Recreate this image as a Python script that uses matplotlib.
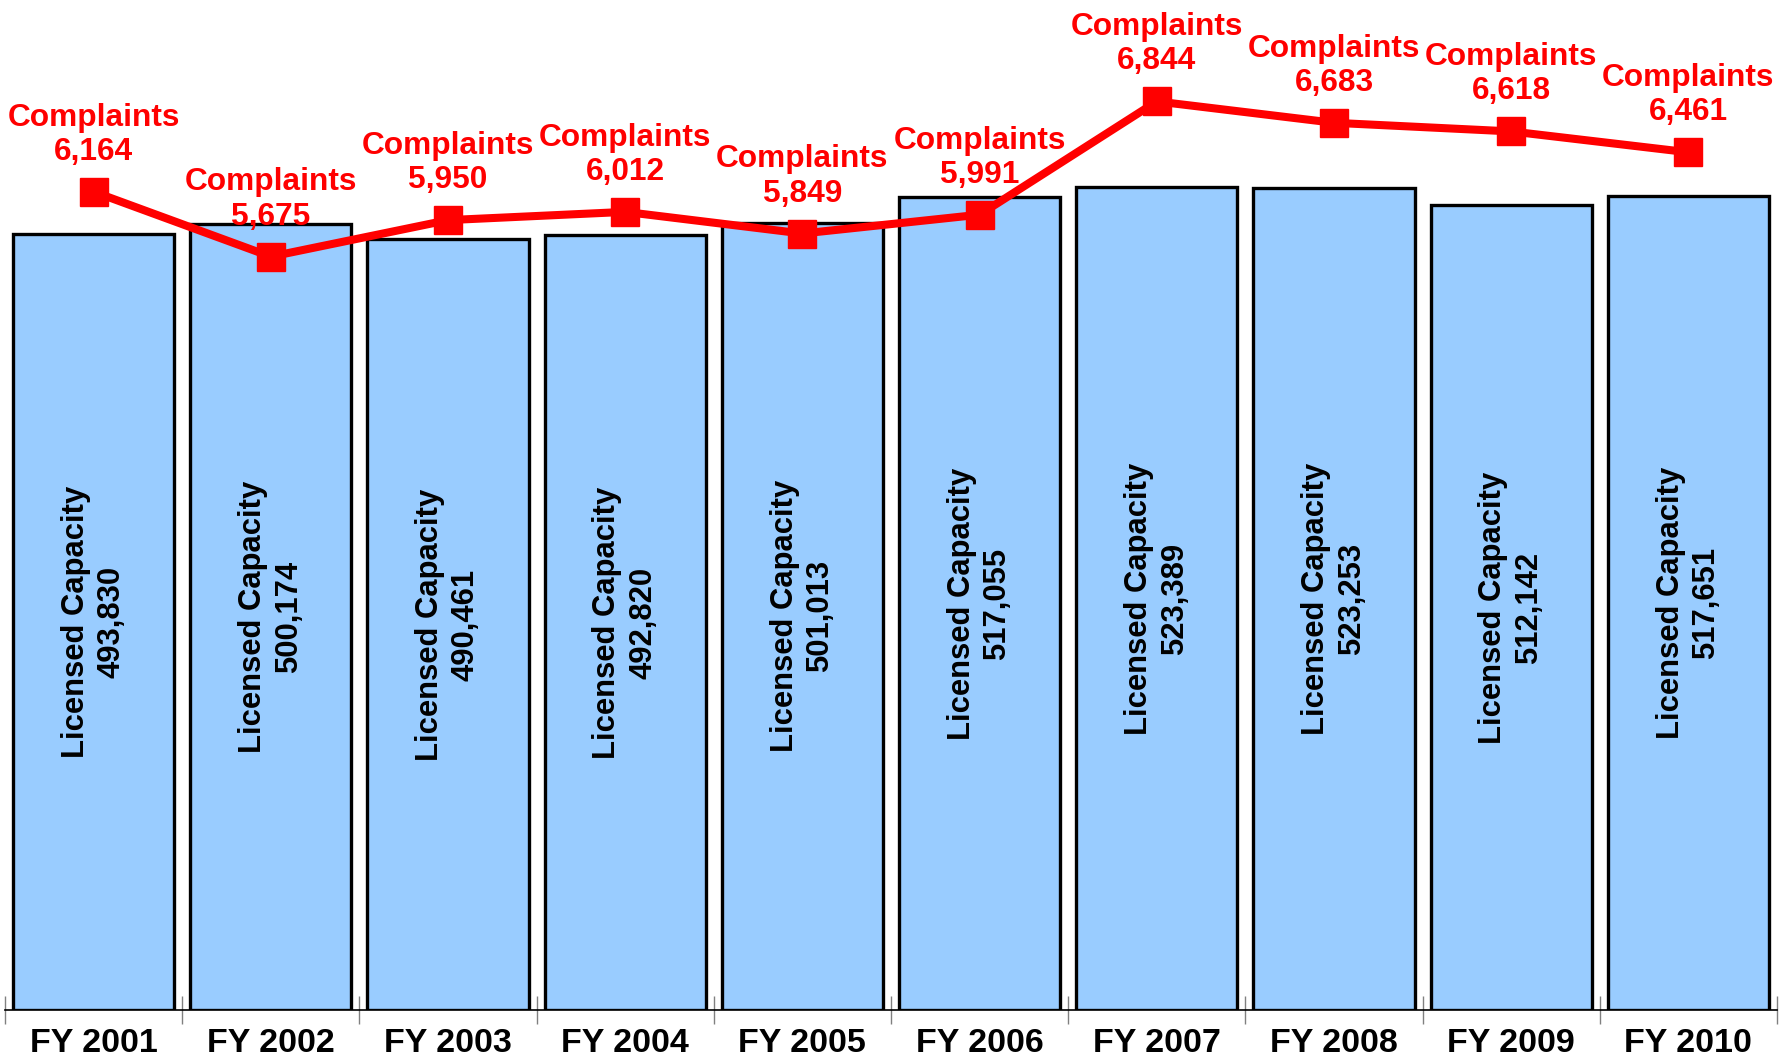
import matplotlib.pyplot as plt

years = ['FY 2001', 'FY 2002', 'FY 2003', 'FY 2004', 'FY 2005',
         'FY 2006', 'FY 2007', 'FY 2008', 'FY 2009', 'FY 2010']
capacity = [493830, 500174, 490461, 492820, 501013, 517055, 523389, 523253, 512142, 517651]
complaints = [6164, 5675, 5950, 6012, 5849, 5991, 6844, 6683, 6618, 6461]

plt.rcParams['font.family'] = ['Liberation Sans', 'DejaVu Sans']
plt.rcParams['font.weight'] = 'bold'

fig = plt.figure(figsize=(17.89, 10.57), dpi=100)
ax = fig.add_axes([5 / 1789, 47 / 1057, 1772 / 1789, 1010 / 1057])
x = range(len(years))

ax.bar(x, capacity, width=0.91, color='#99CCFF', edgecolor='black', linewidth=2.4, zorder=2)
for i, v in enumerate(capacity):
    ax.text(i, v / 2, f'Licensed Capacity\n{v:,}', rotation=90, ha='center', va='center',
            fontsize=22.3, fontweight='bold', color='black', linespacing=1.25, zorder=3)

ax.set_xlim(-0.5, len(years) - 0.5)
ax.set_ylim(0, 642600)
ax.set_xticks([i - 0.5 for i in range(len(years) + 1)])
ax.set_xticklabels([])
ax.set_xticks(list(x), minor=True)
ax.set_xticklabels(years, minor=True, fontsize=24.5, fontweight='bold')
ax.tick_params(axis='x', which='major', direction='inout', length=20, color='grey', width=1)
ax.tick_params(axis='x', which='minor', length=0, pad=13)
ax.set_yticks([])
for s in ['top', 'left', 'right']:
    ax.spines[s].set_visible(False)
ax.spines['bottom'].set_linewidth(1.2)

ax2 = ax.twinx()
ax2.plot(x, complaints, color='#FF0000', linewidth=5.8, marker='s', markersize=20, zorder=4)
for i, v in enumerate(complaints):
    ax2.annotate(f'Complaints\n{v:,}', (i, v), xytext=(0, 18), textcoords='offset points',
                 ha='center', va='bottom', fontsize=22.8, fontweight='bold', color='#FF0000',
                 linespacing=1.18)
ax2.set_ylim(0, 7608)
ax2.set_yticks([])
for s in ax2.spines.values():
    s.set_visible(False)

fig.savefig('out.png', dpi=100)
